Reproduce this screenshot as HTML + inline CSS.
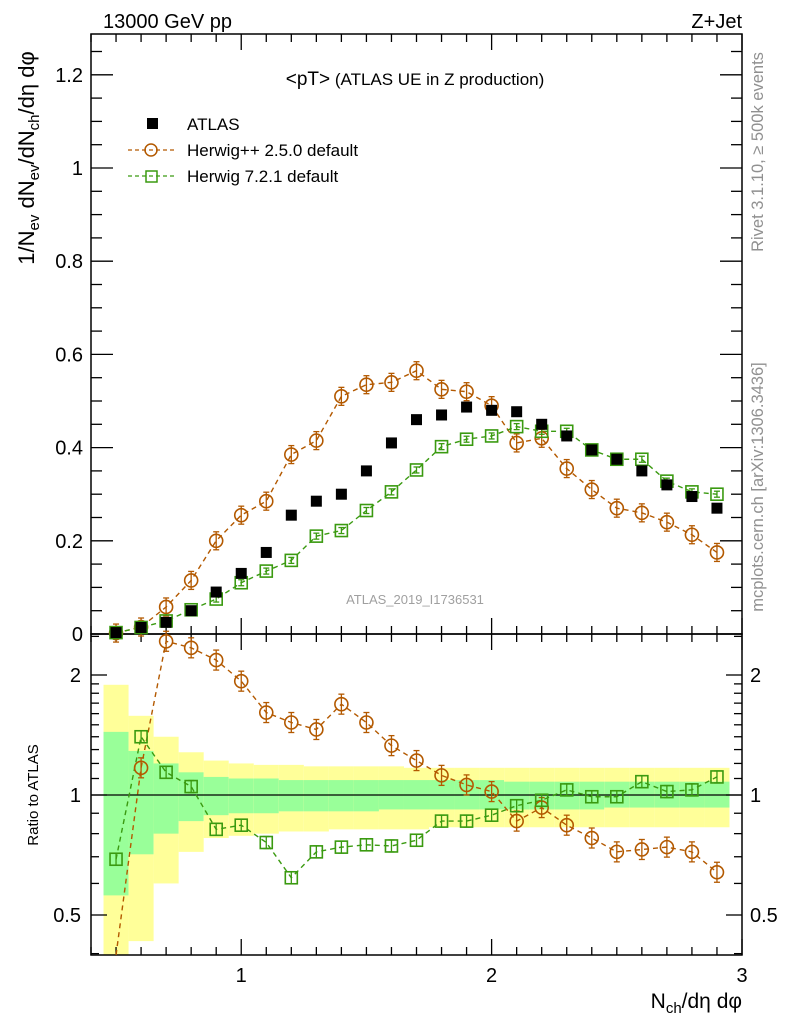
<!DOCTYPE html>
<html><head><meta charset="utf-8"><style>
html,body{margin:0;padding:0;background:#fff;}
svg{display:block;font-family:"Liberation Sans",sans-serif;}
</style></head><body>
<svg id="chart" width="786" height="1024" viewBox="0 0 786 1024" xmlns="http://www.w3.org/2000/svg">
<g id="bands"></g>
<g id="grid"></g>
<g id="series"></g>
<text x="103" y="28" font-size="20">13000 GeV pp</text>
<text x="742" y="28" font-size="20" text-anchor="end">Z+Jet</text>
<text x="415" y="85" font-size="17" text-anchor="middle"><tspan font-size="19">&lt;pT&gt;</tspan> (ATLAS UE in Z production)</text>
<text x="415" y="604" font-size="13" fill="#a0a0a0" text-anchor="middle">ATLAS_2019_I1736531</text>
<text transform="translate(763,152) rotate(-90)" font-size="16.5" fill="#909090" text-anchor="middle">Rivet 3.1.10, ≥ 500k events</text>
<text transform="translate(763,487) rotate(-90)" font-size="16.5" fill="#909090" text-anchor="middle">mcplots.cern.ch [arXiv:1306.3436]</text>
<text transform="translate(34,158) rotate(-90)" font-size="22" text-anchor="middle">1/N<tspan font-size="15" dy="5">ev</tspan><tspan dy="-5"> dN</tspan><tspan font-size="15" dy="5">ev</tspan><tspan dy="-5">/dN</tspan><tspan font-size="15" dy="5">ch</tspan><tspan dy="-5">/dη dφ</tspan></text>
<text transform="translate(38,795) rotate(-90)" font-size="15" text-anchor="middle">Ratio to ATLAS</text>
<text x="742" y="1008" font-size="21" text-anchor="end">N<tspan font-size="15" dy="5">ch</tspan><tspan dy="-5">/dη dφ</tspan></text>
<g>
<rect x="147" y="118" width="11" height="11" fill="#000"/>
<text x="187" y="130" font-size="17">ATLAS</text>
<line x1="128" y1="150" x2="175" y2="150" stroke="#b35900" stroke-dasharray="4,3" stroke-width="1.3"/>
<circle cx="151" cy="150" r="6" fill="none" stroke="#b35900" stroke-width="1.5"/>
<text x="187" y="156" font-size="17">Herwig++ 2.5.0 default</text>
<line x1="128" y1="176" x2="175" y2="176" stroke="#3a9a10" stroke-dasharray="4,3" stroke-width="1.3"/>
<rect x="146" y="171" width="11" height="11" fill="none" stroke="#3a9a10" stroke-width="1.5"/>
<text x="187" y="182" font-size="17">Herwig 7.2.1 default</text>
</g>
</svg>
<script>
const xs=[0.5,0.6,0.7,0.8,0.9,1.0,1.1,1.2,1.3,1.4,1.5,1.6,1.7,1.8,1.9,2.0,2.1,2.2,2.3,2.4,2.5,2.6,2.7,2.8,2.9];
const atlas=[0.003,0.014,0.025,0.05,0.09,0.13,0.175,0.255,0.285,0.30,0.35,0.41,0.46,0.47,0.487,0.48,0.477,0.45,0.425,0.395,0.375,0.35,0.32,0.295,0.27];
const herwigpp=[0.002,0.015,0.058,0.115,0.2,0.255,0.285,0.385,0.415,0.51,0.535,0.54,0.565,0.525,0.52,0.49,0.41,0.42,0.355,0.31,0.27,0.26,0.24,0.213,0.175];
const herwig7=[0.003,0.014,0.028,0.052,0.075,0.11,0.135,0.158,0.21,0.222,0.265,0.305,0.352,0.402,0.418,0.425,0.445,0.435,0.435,0.395,0.375,0.375,0.328,0.305,0.30];
const ratioPP=[0.3,1.17,2.43,2.34,2.18,1.93,1.61,1.52,1.46,1.69,1.52,1.33,1.22,1.12,1.06,1.02,0.86,0.93,0.84,0.78,0.72,0.73,0.74,0.72,0.64];
const ratio7=[0.69,1.40,1.14,1.05,0.82,0.84,0.76,0.62,0.72,0.74,0.75,0.745,0.77,0.86,0.86,0.89,0.94,0.97,1.03,0.99,0.99,1.08,1.02,1.03,1.11];
const yellowHi=[1.89,1.58,1.40,1.28,1.22,1.20,1.19,1.19,1.18,1.18,1.18,1.18,1.17,1.17,1.17,1.17,1.17,1.17,1.17,1.17,1.17,1.17,1.17,1.17,1.17];
const yellowLo=[0.3,0.43,0.60,0.72,0.78,0.79,0.80,0.81,0.81,0.82,0.82,0.82,0.82,0.83,0.83,0.83,0.83,0.83,0.83,0.83,0.83,0.83,0.83,0.83,0.83];
const greenHi=[1.44,1.29,1.20,1.14,1.11,1.10,1.10,1.09,1.09,1.09,1.09,1.09,1.09,1.09,1.09,1.09,1.08,1.08,1.08,1.08,1.08,1.08,1.08,1.08,1.08];
const greenLo=[0.56,0.71,0.80,0.86,0.89,0.90,0.90,0.91,0.91,0.91,0.91,0.92,0.92,0.92,0.92,0.92,0.92,0.92,0.92,0.92,0.93,0.93,0.93,0.93,0.93];
const mainTicks=[0,0.2,0.4,0.6,0.8,1,1.2];
const mainTickLabels=["0","0.2","0.4","0.6","0.8","1","1.2"];
const ratioTicks=[0.5,1,2];
const xTicks=[1,2,3];

const NS="http://www.w3.org/2000/svg";
const L=91,R=742,T=34,MB=634,B=955;
const X=v=>L+(v-0.4)/(3-0.4)*(R-L);
const Y=v=>MB-v*466;
const RY=v=>795-Math.log2(v)*120;
function mk(tag,at,parent){const e=document.createElementNS(NS,tag);for(const k in at)e.setAttribute(k,at[k]);parent.appendChild(e);return e;}
const gB=document.getElementById('bands'),gG=document.getElementById('grid'),gS=document.getElementById('series');

xs.forEach((x,i)=>{
  const x0=X(x-0.05),x1=X(x+0.05);
  const yt=Math.max(RY(yellowHi[i]),MB),yb=Math.min(RY(yellowLo[i]),B);
  let r=mk('rect',{x:x0,y:yt,width:x1-x0,height:yb-yt,fill:'#ffff99'},gB);
  
  
  const gt=RY(greenHi[i]),gb=Math.min(RY(greenLo[i]),B);
  r=mk('rect',{x:x0,y:gt,width:x1-x0,height:gb-gt,fill:'#99ff99'},gB);
  
  
});
mk('line',{x1:L,y1:795,x2:R,y2:795,stroke:'#000','stroke-width':1.3},gG);

mk('rect',{x:L,y:T,width:R-L,height:MB-T,fill:'none',stroke:'#000','stroke-width':1.5},gG);
mk('rect',{x:L,y:MB,width:R-L,height:B-MB,fill:'none',stroke:'#000','stroke-width':1.5},gG);
const tk=(x1,y1,x2,y2)=>mk('line',{x1,y1,x2,y2,stroke:'#000','stroke-width':1.3},gG);
for(let v=0.4;v<=3.001;v+=0.1){
  const major=Math.abs(v-Math.round(v))<0.001;
  const len=major?16:8,x=X(v);
  [[T,1],[MB,-1],[MB,1],[B,-1]].forEach(([y,d])=>tk(x,y,x,y+d*len));
}
xTicks.forEach(v=>{const t=mk('text',{x:X(v),y:982,'font-size':20,'text-anchor':'middle'},gG);t.textContent=v;
 
 });
for(let v=0;v<=1.28;v+=0.05){
  const major=Math.abs(v*5-Math.round(v*5))<0.001;const len=major?22:11;
  tk(L,Y(v),L+len,Y(v));tk(R,Y(v),R-len,Y(v));
}
mainTicks.forEach((v,i)=>{const t=mk('text',{x:L-8,y:Y(v)+7,'font-size':20,'text-anchor':'end'},gG);t.textContent=mainTickLabels[i];
 
 });
[0.4,0.5,0.6,0.7,0.8,0.9,1,1.1,1.2,1.3,1.4,1.5,1.6,1.7,1.8,1.9,2,2.5].forEach(v=>{
  const major=ratioTicks.includes(v);const len=major?16:8;const y=RY(v);
  if(y<MB||y>B)return;
  tk(L,y,L+len,y);tk(R,y,R-len,y);
});
ratioTicks.forEach(v=>{
  let t=mk('text',{x:L-10,y:RY(v)+7,'font-size':20,'text-anchor':'end'},gG);t.textContent=v;
  
  
  t=mk('text',{x:R+8,y:RY(v)+7,'font-size':20},gG);t.textContent=v;
  
  
});

function clipPts(vals,f,ymin,ymax){return xs.map((x,i)=>[X(x),Math.max(ymin,Math.min(ymax,f(vals[i])))]);}
function drawLine(pts,col){mk('polyline',{points:pts.map(p=>p.join(',')).join(' '),fill:'none',stroke:col,'stroke-width':1.4,'stroke-dasharray':'5,4'},gS);}
function drawMarkers(vals,f,col,shape,ymin,ymax,err){
  xs.forEach((x,i)=>{
    const cx=X(x),cy=f(vals[i]);
    if(cy<ymin-3||cy>ymax+3)return;
    const e=err;
    mk('line',{x1:cx,y1:cy-e,x2:cx,y2:cy+e,stroke:col,'stroke-width':1.3},gS);
    mk('line',{x1:cx-3,y1:cy-e,x2:cx+3,y2:cy-e,stroke:col,'stroke-width':1.3},gS);
    mk('line',{x1:cx-3,y1:cy+e,x2:cx+3,y2:cy+e,stroke:col,'stroke-width':1.3},gS);
    let m;
    if(shape==='circle')m=mk('circle',{cx,cy,r:6.5,fill:'none',stroke:col,'stroke-width':1.6},gS);
    else m=mk('rect',{x:cx-6,y:cy-6,width:12,height:12,fill:'none',stroke:col,'stroke-width':1.6},gS);
    
    
  });
}
const PP='#b35900',H7='#3a9a10';
drawLine(clipPts(herwigpp,Y,T,MB),PP);drawLine(clipPts(herwig7,Y,T,MB),H7);
drawMarkers(herwigpp,Y,PP,'circle',T,MB,9);
drawMarkers(herwig7,Y,H7,'square',T,MB,3);
xs.forEach((x,i)=>{const r=mk('rect',{x:X(x)-5.5,y:Y(atlas[i])-5.5,width:11,height:11,fill:'#000'},gS);
 
 });
drawLine(clipPts(ratioPP,RY,MB,B),PP);drawLine(clipPts(ratio7,RY,MB,B),H7);
drawMarkers(ratioPP,RY,PP,'circle',MB,B,10);
drawMarkers(ratio7,RY,H7,'square',MB,B,6);
</script>
</body></html>
